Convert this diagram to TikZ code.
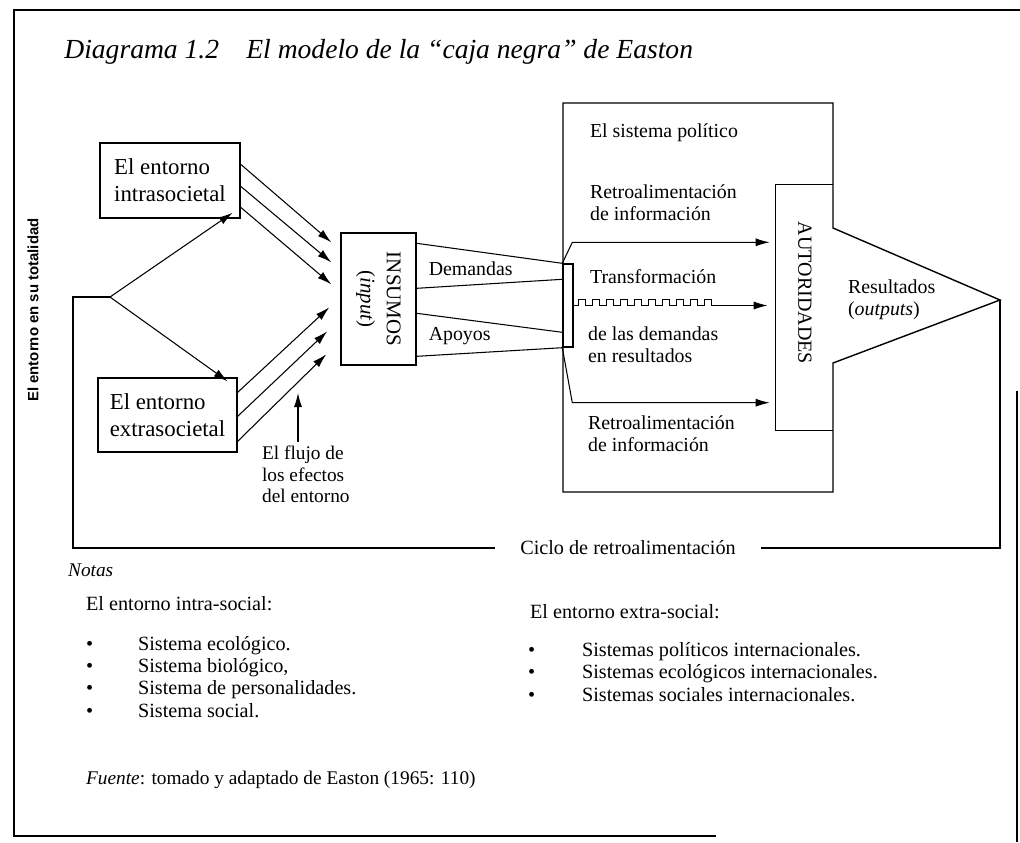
\documentclass[tikz,border=0pt]{standalone}
\usepackage{fontspec}
\setmainfont{Liberation Serif}
\setsansfont{Liberation Sans}
\usetikzlibrary{positioning, calc, arrows.meta}

\begin{document}
\begin{tikzpicture}[x=0.02cm, y=-0.02cm,
  envbox/.style={draw, 
    line width=0.8pt, 
    minimum width=2.8cm, 
    minimum height=1.5cm, 
    align=left, 
    font=\fontsize{13}{15.4}\selectfont},
  lbl/.style={inner sep=1pt, 
    align=left, 
    font=\fontsize{11.3}{12.5}\selectfont},
  note/.style={inner sep=1pt, 
    align=left, 
    font=\fontsize{11.5}{13.7}\selectfont},
  flow/.style={-{Latex[length=8pt, width=4.6pt]}, line width=0.6pt},
  wire/.style={line width=0.6pt}]

  \useasboundingbox (0,0) rectangle (1020,842);

  % page frame
  \draw[line width=1pt] (716,836) -- (14,836) -- (14,10) -- (1020,10);
  \draw[line width=1pt] (1017,391) -- (1017,842);

  \node [anchor=base west, inner sep=0, 
    font=\itshape\fontsize{15.7}{18}\selectfont] (diagnum) at (64,58) {Diagrama 1.2};
  \node [anchor=base west, inner sep=0, 
    font=\itshape\fontsize{15.7}{18}\selectfont] (diagtitle) at (246,58) 
    {El modelo de la “caja negra” de Easton};

  \node [rotate=90, 
    font=\sffamily\bfseries\fontsize{8.5}{10}\selectfont] (totalidad) at (33,310) 
    {El entorno en su totalidad};

  % environments
  \node [envbox] (intra) at (170,180.5) {El entorno\\intrasocietal};
  \node [envbox, minimum width=2.78cm, minimum height=1.48cm] (extra) at (167.5,415) 
    {El entorno\\extrasocietal};

  % inputs
  \node [draw, line width=0.8pt, minimum width=1.5cm, minimum height=2.64cm] 
    (insumos) at (378.5,299) {};
  \node [rotate=-90, align=center, 
    font=\fontsize{11.9}{13}\selectfont] (insumostxt) at (insumos.center) 
    {INSUMOS\\[2pt](\textit{input})};

  \node [draw, line width=0.8pt, minimum width=0.2cm, minimum height=1.66cm, 
    inner sep=0] (conv) at (568,305.5) {};

  % political system
  \coordinate (systl) at (563,103);
  \coordinate (systr) at (833,103);
  \coordinate (outtop) at (833,228);
  \coordinate (apex) at (1000,300);
  \coordinate (outbot) at (833,363);
  \coordinate (sysbr) at (833,492);
  \coordinate (sysbl) at (563,492);
  \draw[line width=0.8pt] (systl) -- (systr) -- (outtop) -- (apex) 
    -- (outbot) -- (sysbr) -- (sysbl) -- cycle;

  \node [minimum width=1.14cm, minimum height=4.9cm, inner sep=0] 
    (auth) at (804.5,307.5) {};
  \draw[line width=0.8pt] (auth.north east) -- (auth.north west) 
    -- (auth.south west) -- (auth.south east);
  \node [rotate=-90, 
    font=\fontsize{11.4}{12}\selectfont] (authtxt) at (805,293) {AUTORIDADES};

  \node [lbl, anchor=west] (sistpol) at (588,133) {El sistema político};
  \node [lbl, anchor=west] (retroup) at (588,203) {Retroalimentación\\de información};
  \node [lbl, anchor=west] (transf) at (588,277) {Transformación};
  \node [lbl, anchor=west] (demres) at (586,345) {de las demandas\\en resultados};
  \node [lbl, anchor=west] (retrodown) at (586,434) {Retroalimentación\\de información};
  \node [lbl, anchor=west] (result) at (846,300) {Resultados\\(\textit{outputs})};

  % demands and supports
  \draw[wire] ($(insumos.north east)+(0,11)$) -- (conv.north west);
  \draw[wire] ($(insumos.north east)+(0,56)$) -- ($(conv.north west)+(0,16)$);
  \draw[wire] ($(insumos.north east)+(0,81)$) -- ($(conv.north west)+(0,69)$);
  \draw[wire] ($(insumos.north east)+(0,124)$) -- (conv.south west);
  \node [lbl, anchor=west] (demandas) at ($(insumos.north east)+(10,36)$) {Demandas};
  \node [lbl, anchor=west] (apoyos) at ($(insumos.north east)+(10,104)$) {Apoyos};

  % effects of the environment
  \draw[flow] ($(intra.north east)+(0,22)$) -- ($(insumos.north west)+(-9,10)$);
  \draw[flow] ($(intra.north east)+(0,44)$) -- ($(insumos.north west)+(-9,30)$);
  \draw[flow] ($(intra.north east)+(0,65)$) -- ($(insumos.north west)+(-9,52)$);
  \draw[flow] ($(extra.north east)+(0,15)$) -- ($(insumos.north west)+(-11,75)$);
  \draw[flow] ($(extra.north east)+(0,39)$) -- ($(insumos.north west)+(-13,99)$);
  \draw[flow] ($(extra.north east)+(0,64)$) -- ($(insumos.north west)+(-14,122)$);

  \node [lbl, anchor=north west, 
    font=\fontsize{11}{12.3}\selectfont] (flujo) at (260,444) 
    {El flujo de\\los efectos\\del entorno};
  \draw[flow] ([shift={(38,-2)}]flujo.north west) -- ++(0,-49);

  % conversion inside the system
  \draw[flow, shorten >=0.12cm] (conv.north west) -- ++(10,-21) coordinate (fbup) 
    -- (fbup -| auth.west);
  \draw[wire] (conv.east) -- ++(5,0)
    -- ++(0,-6) -- ++(7,0) -- ++(0,6) -- ++(7,0)
    -- ++(0,-6) -- ++(7,0) -- ++(0,6) -- ++(7,0)
    -- ++(0,-6) -- ++(7,0) -- ++(0,6) -- ++(7,0)
    -- ++(0,-6) -- ++(7,0) -- ++(0,6) -- ++(7,0)
    -- ++(0,-6) -- ++(7,0) -- ++(0,6) -- ++(7,0)
    -- ++(0,-6) -- ++(7,0) -- ++(0,6) -- ++(7,0)
    -- ++(0,-6) -- ++(7,0) -- ++(0,6) -- ++(7,0)
    -- ++(0,-6) -- ++(7,0) -- ++(0,6) -- ++(7,0)
    -- ++(0,-6) -- ++(7,0) -- ++(0,6) -- ++(7,0)
    -- ++(0,-6) -- ++(7,0) -- ++(0,6) -- ++(7,0) coordinate (waveend);
  \draw[flow, shorten >=0.16cm] (waveend) -- (waveend -| auth.west);
  \draw[flow, shorten >=0.12cm] (conv.south west) -- ++(10,55) coordinate (fbdown) 
    -- (fbdown -| auth.west);

  % feedback loop
  \coordinate (branch) at (110,297);
  \coordinate (loopcorner) at (73,297);
  \draw[flow] (branch) -- ($(intra.south east)+(-8,-6)$);
  \draw[flow] (branch) -- ($(extra.north east)+(-10,4)$);
  \node [lbl, inner xsep=0.5cm, 
    font=\fontsize{11.5}{12}\selectfont] (ciclo) at (628,548) {Ciclo de retroalimentación};
  \draw[line width=0.8pt] (branch) -- (loopcorner) |- (ciclo.west);
  \draw[line width=0.8pt] (ciclo.east) -| (apex);

  % notes
  \node [note, anchor=west, font=\itshape\fontsize{11}{12}\selectfont] (notas) at (66,570) {Notas};
  \node [note, anchor=west] (intrahead) at (84,604) {El entorno intra-social:};
  \node [note, anchor=west, font=\fontsize{11.5}{12.6}\selectfont] (intralist) at (84,677) {
    \makebox[1.04cm][l]{\textbullet}Sistema ecológico.\\
    \makebox[1.04cm][l]{\textbullet}Sistema biológico,\\
    \makebox[1.04cm][l]{\textbullet}Sistema de personalidades.\\
    \makebox[1.04cm][l]{\textbullet}Sistema social.};
  \node [note, anchor=west] (extrahead) at (528,612) {El entorno extra-social:};
  \node [note, anchor=west, font=\fontsize{11.5}{12.6}\selectfont] (extralist) at (526,672) {
    \makebox[1.08cm][l]{\textbullet}Sistemas políticos internacionales.\\
    \makebox[1.08cm][l]{\textbullet}Sistemas ecológicos internacionales.\\
    \makebox[1.08cm][l]{\textbullet}Sistemas sociales internacionales.};
  \node [note, anchor=west, font=\fontsize{11}{12}\selectfont] (fuente) at (84,780) 
    {\textit{Fuente}: tomado y adaptado de Easton (1965: 110)};

\end{tikzpicture}
\end{document}
